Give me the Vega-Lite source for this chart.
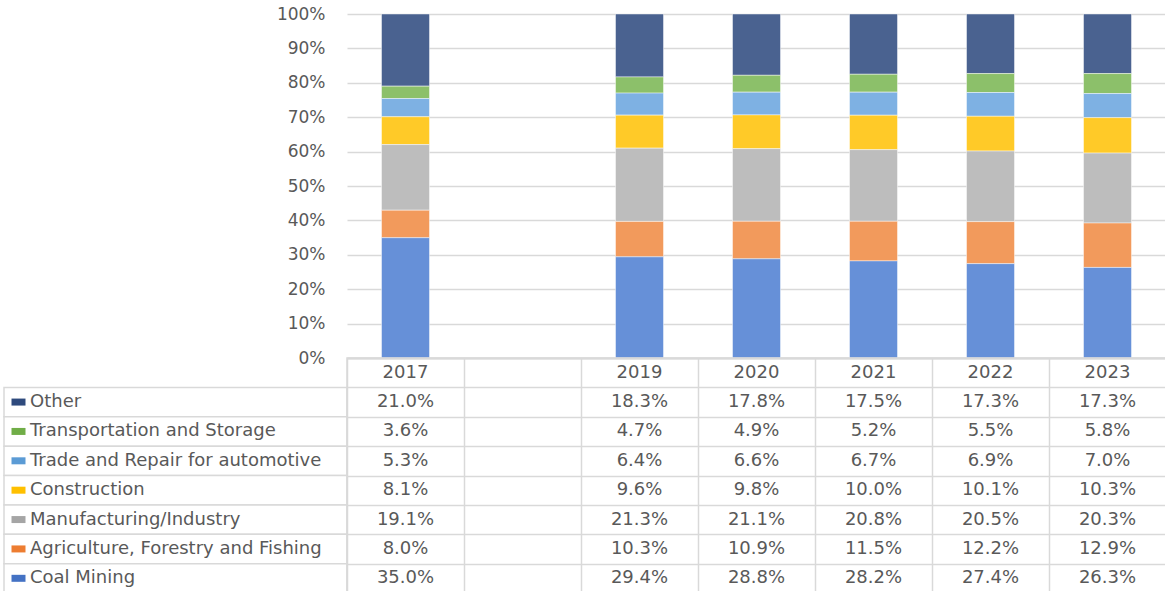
{
  "$schema": "https://vega.github.io/schema/vega-lite/v6.json",
  "padding": {"top": 5, "left": 3, "right": 0, "bottom": 0},
  "background": "white",
  "columns": 2,
  "spacing": 0,
  "bounds": "flush",
  "resolve": {"scale": {"x": "independent", "y": "independent", "color": "independent"}},
  "config": {"view": {"stroke": null}, "font": "DejaVu Sans"},
  "datasets": {
    "main": [
      {"year": "2017", "sector": "Other", "value": 0.210},
      {"year": "2017", "sector": "Transportation and Storage", "value": 0.036},
      {"year": "2017", "sector": "Trade and Repair for automotive", "value": 0.053},
      {"year": "2017", "sector": "Construction", "value": 0.081},
      {"year": "2017", "sector": "Manufacturing/Industry", "value": 0.191},
      {"year": "2017", "sector": "Agriculture, Forestry and Fishing", "value": 0.080},
      {"year": "2017", "sector": "Coal Mining", "value": 0.350},
      {"year": "2019", "sector": "Other", "value": 0.183},
      {"year": "2019", "sector": "Transportation and Storage", "value": 0.047},
      {"year": "2019", "sector": "Trade and Repair for automotive", "value": 0.064},
      {"year": "2019", "sector": "Construction", "value": 0.096},
      {"year": "2019", "sector": "Manufacturing/Industry", "value": 0.213},
      {"year": "2019", "sector": "Agriculture, Forestry and Fishing", "value": 0.103},
      {"year": "2019", "sector": "Coal Mining", "value": 0.294},
      {"year": "2020", "sector": "Other", "value": 0.178},
      {"year": "2020", "sector": "Transportation and Storage", "value": 0.049},
      {"year": "2020", "sector": "Trade and Repair for automotive", "value": 0.066},
      {"year": "2020", "sector": "Construction", "value": 0.098},
      {"year": "2020", "sector": "Manufacturing/Industry", "value": 0.211},
      {"year": "2020", "sector": "Agriculture, Forestry and Fishing", "value": 0.109},
      {"year": "2020", "sector": "Coal Mining", "value": 0.288},
      {"year": "2021", "sector": "Other", "value": 0.175},
      {"year": "2021", "sector": "Transportation and Storage", "value": 0.052},
      {"year": "2021", "sector": "Trade and Repair for automotive", "value": 0.067},
      {"year": "2021", "sector": "Construction", "value": 0.100},
      {"year": "2021", "sector": "Manufacturing/Industry", "value": 0.208},
      {"year": "2021", "sector": "Agriculture, Forestry and Fishing", "value": 0.115},
      {"year": "2021", "sector": "Coal Mining", "value": 0.282},
      {"year": "2022", "sector": "Other", "value": 0.173},
      {"year": "2022", "sector": "Transportation and Storage", "value": 0.055},
      {"year": "2022", "sector": "Trade and Repair for automotive", "value": 0.069},
      {"year": "2022", "sector": "Construction", "value": 0.101},
      {"year": "2022", "sector": "Manufacturing/Industry", "value": 0.205},
      {"year": "2022", "sector": "Agriculture, Forestry and Fishing", "value": 0.122},
      {"year": "2022", "sector": "Coal Mining", "value": 0.274},
      {"year": "2023", "sector": "Other", "value": 0.173},
      {"year": "2023", "sector": "Transportation and Storage", "value": 0.058},
      {"year": "2023", "sector": "Trade and Repair for automotive", "value": 0.070},
      {"year": "2023", "sector": "Construction", "value": 0.103},
      {"year": "2023", "sector": "Manufacturing/Industry", "value": 0.203},
      {"year": "2023", "sector": "Agriculture, Forestry and Fishing", "value": 0.129},
      {"year": "2023", "sector": "Coal Mining", "value": 0.263}
    ]
  },
  "concat": [
    {
      "width": 343,
      "height": 344,
      "data": {"values": [{}]},
      "mark": {"type": "text"},
      "encoding": {"text": {"value": ""}}
    },
    {
      "width": 819,
      "height": 344,
      "data": {"name": "main"},
      "mark": {"type": "bar", "stroke": "#ffffff", "strokeOpacity": 0.45, "strokeWidth": 1},
      "encoding": {
        "x": {
          "field": "year",
          "type": "nominal",
          "scale": {"domain": ["2017", "2018", "2019", "2020", "2021", "2022", "2023"], "paddingInner": 0.59, "paddingOuter": 0.295},
          "axis": {"labels": false, "ticks": false, "title": null, "domain": true, "domainColor": "#bfbfbf", "domainWidth": 1.5, "grid": false}
        },
        "y": {
          "field": "value",
          "type": "quantitative",
          "stack": "normalize",
          "scale": {"domain": [0, 1]},
          "axis": {
            "format": ".0%",
            "values": [0, 0.1, 0.2, 0.3, 0.4, 0.5, 0.6, 0.7, 0.8, 0.9, 1],
            "title": null,
            "domain": false,
            "ticks": false,
            "labelPadding": 22,
            "labelFontSize": 17,
            "labelColor": "#595959",
            "gridColor": "#d9d9d9",
            "gridWidth": 1.3
          }
        },
        "color": {
          "field": "sector",
          "type": "nominal",
          "sort": ["Coal Mining", "Agriculture, Forestry and Fishing", "Manufacturing/Industry", "Construction", "Trade and Repair for automotive", "Transportation and Storage", "Other"],
          "scale": {
            "range": ["#6690d8", "#f29a5c", "#bdbdbd", "#ffca28", "#7eb1e3", "#8cc06a", "#4a6290"]
          },
          "legend": null
        },
        "order": {"field": "color_sector_sort_index", "type": "quantitative", "sort": "ascending"}
      }
    },
    {
      "width": 343,
      "height": 235,
      "data": {"name": "main"},
      "transform": [{"filter": "datum.year == '2017'"}],
      "encoding": {
        "y": {
          "field": "sector",
          "type": "nominal",
          "scale": {
            "domain": ["header", "Other", "Transportation and Storage", "Trade and Repair for automotive", "Construction", "Manufacturing/Industry", "Agriculture, Forestry and Fishing", "Coal Mining"],
            "paddingInner": 0,
            "paddingOuter": 0
          },
          "axis": null
        }
      },
      "layer": [
        {
          "mark": {"type": "rect", "fill": "#ffffff", "stroke": "#d9d9d9", "strokeWidth": 1.5},
          "encoding": {
            "x": {"datum": 0, "type": "quantitative", "scale": {"domain": [0, 1]}, "axis": null},
            "x2": {"datum": 1}
          }
        },
        {
          "mark": {"type": "point", "filled": true, "shape": "M-1,-0.5H1V0.5H-1Z", "size": 196, "opacity": 1, "x": 14.5},
          "encoding": {
            "color": {
              "field": "sector",
              "type": "nominal",
              "scale": {
                "domain": ["Coal Mining", "Agriculture, Forestry and Fishing", "Manufacturing/Industry", "Construction", "Trade and Repair for automotive", "Transportation and Storage", "Other"],
                "range": ["#4472c4", "#ed7d31", "#a5a5a5", "#ffc000", "#5b9bd5", "#70ad47", "#2e4a7d"]
              },
              "legend": null
            }
          }
        },
        {
          "mark": {"type": "text", "align": "left", "x": 26, "fontSize": 18, "color": "#595959"},
          "encoding": {"text": {"field": "sector"}}
        }
      ]
    },
    {
      "width": 819,
      "height": 235,
      "view": {"stroke": "#d9d9d9", "strokeWidth": 1.5},
      "layer": [
        {
          "data": {"name": "main"},
          "mark": {"type": "text", "fontSize": 18, "color": "#595959"},
          "encoding": {
            "x": {
              "field": "year",
              "type": "nominal",
              "scale": {"domain": ["2017", "2018", "2019", "2020", "2021", "2022", "2023"], "paddingInner": 0, "paddingOuter": 0},
              "axis": {"grid": true, "tickBand": "extent", "labels": false, "ticks": false, "domain": false, "title": null, "gridColor": "#d9d9d9", "gridWidth": 1.5}
            },
            "y": {
              "field": "sector",
              "type": "nominal",
              "scale": {
                "domain": ["header", "Other", "Transportation and Storage", "Trade and Repair for automotive", "Construction", "Manufacturing/Industry", "Agriculture, Forestry and Fishing", "Coal Mining"],
                "paddingInner": 0,
                "paddingOuter": 0
              },
              "axis": {"grid": true, "tickBand": "extent", "labels": false, "ticks": false, "domain": false, "title": null, "gridColor": "#d9d9d9", "gridWidth": 1.5}
            },
            "text": {"field": "value", "type": "quantitative", "format": ".1%"}
          }
        },
        {
          "data": {"name": "main"},
          "transform": [{"filter": "datum.sector == 'Coal Mining'"}],
          "mark": {"type": "text", "fontSize": 18, "color": "#595959"},
          "encoding": {
            "x": {"field": "year", "type": "nominal"},
            "y": {"datum": "header", "type": "nominal"},
            "text": {"field": "year", "type": "nominal"}
          }
        }
      ]
    }
  ]
}
